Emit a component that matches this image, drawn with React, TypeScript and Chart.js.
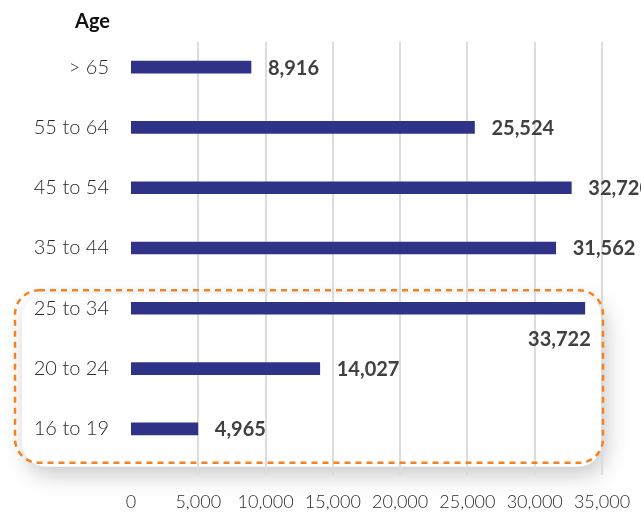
import React, { useEffect, useRef } from "react";
import { Chart, registerables } from "chart.js";

Chart.register(...registerables);

const categories = ["> 65", "55 to 64", "45 to 54", "35 to 44", "25 to 34", "20 to 24", "16 to 19"];
const values = [8916, 25524, 32720, 31562, 33722, 14027, 4965];
const xTicks = [0, 5000, 10000, 15000, 20000, 25000, 30000, 35000];
const axisTitle = "Age";
const highlighted = ["25 to 34", "20 to 24", "16 to 19"];

const BAR_COLOR = "#2E3388";
const FONT_LIGHT = "Lato, 'Open Sans', sans-serif";

function roundRect(ctx: CanvasRenderingContext2D, x: number, y: number, w: number, h: number, r: number) {
  ctx.beginPath();
  ctx.moveTo(x + r, y);
  ctx.lineTo(x + w - r, y);
  ctx.arcTo(x + w, y, x + w, y + r, r);
  ctx.lineTo(x + w, y + h - r);
  ctx.arcTo(x + w, y + h, x + w - r, y + h, r);
  ctx.lineTo(x + r, y + h);
  ctx.arcTo(x, y + h, x, y + h - r, r);
  ctx.lineTo(x, y + r);
  ctx.arcTo(x, y, x + r, y, r);
  ctx.closePath();
}

function boxBounds(chart: any) {
  const ys = chart.scales.y;
  const i0 = categories.indexOf(highlighted[0]);
  const i1 = categories.indexOf(highlighted[highlighted.length - 1]);
  return { yTop: ys.getPixelForValue(i0) - 18, yBot: ys.getPixelForValue(i1) + 34 };
}

const customPlugin = {
  id: "custom",
  beforeDraw(chart: any) {
    const ctx = chart.ctx as CanvasRenderingContext2D;
    const xs = chart.scales.x;
    const { yTop, yBot } = boxBounds(chart);
    ctx.save();
    ctx.shadowColor = "rgba(0,0,0,0.22)";
    ctx.shadowBlur = 22;
    ctx.shadowOffsetX = 4;
    ctx.shadowOffsetY = 8;
    ctx.fillStyle = "#ffffff";
    roundRect(ctx, 22, yTop + 4, xs.getPixelForValue(35000) - 22, yBot - yTop, 24);
    ctx.fill();
    ctx.restore();
  },
  beforeDatasetsDraw(chart: any) {
    const ctx = chart.ctx as CanvasRenderingContext2D;
    const xs = chart.scales.x;
    const ca = chart.chartArea;
    ctx.save();
    ctx.strokeStyle = "#dcdcdc";
    ctx.lineWidth = 2;
    xTicks.forEach((t) => {
      if (t === 0) return;
      const x = Math.round(xs.getPixelForValue(t));
      ctx.beginPath();
      ctx.moveTo(x, ca.top + 5);
      ctx.lineTo(x, ca.bottom + 16);
      ctx.stroke();
    });
    ctx.restore();
  },
  afterDatasetsDraw(chart: any) {
    const ctx = chart.ctx as CanvasRenderingContext2D;
    const xs = chart.scales.x;
    const ca = chart.chartArea;
    const meta = chart.getDatasetMeta(0);
    ctx.save();
    ctx.font = "bold 20px Lato, 'Open Sans', sans-serif";
    ctx.fillStyle = "#404040";
    ctx.textBaseline = "middle";
    meta.data.forEach((bar: any, i: number) => {
      const txt = values[i].toLocaleString("en-US");
      if (bar.x > ca.right - 20) {
        ctx.textAlign = "right";
        ctx.fillText(txt, bar.x + 6, bar.y + 31);
      } else {
        ctx.textAlign = "left";
        ctx.fillText(txt, bar.x + 17, bar.y + 1);
      }
    });
    ctx.font = "bold 20px Lato, 'Open Sans', sans-serif";
    ctx.fillStyle = "#111111";
    ctx.textAlign = "right";
    ctx.fillText(axisTitle, 110, 22);
    const { yTop, yBot } = boxBounds(chart);
    ctx.strokeStyle = "#F58220";
    ctx.lineWidth = 2.5;
    ctx.setLineDash([6, 5]);
    roundRect(ctx, 15, yTop, xs.getPixelForValue(35000) + 1 - 15, yBot - yTop, 24);
    ctx.stroke();
    ctx.restore();
  },
};

export default function App() {
  const ref = useRef<HTMLCanvasElement | null>(null);
  useEffect(() => {
    if (!ref.current) return;
    const chart = new Chart(ref.current, {
      type: "bar",
      data: {
        labels: categories,
        datasets: [
          {
            data: values,
            backgroundColor: BAR_COLOR,
            barThickness: 12,
          },
        ],
      },
      options: {
        indexAxis: "y",
        animation: false,
        responsive: false,
        maintainAspectRatio: false,
        layout: { padding: { top: 37, right: 39, left: 0, bottom: 0 } },
        plugins: {
          legend: { display: false },
          tooltip: { enabled: false },
        },
        scales: {
          x: {
            min: 0,
            max: 35000,
            grid: { display: false, drawTicks: false },
            border: { display: false },
            afterBuildTicks: (scale: any) => {
              scale.ticks = xTicks.map((v) => ({ value: v }));
            },
            afterFit: (scale: any) => {
              scale.height = 53;
              scale.paddingLeft = 0;
              scale.paddingRight = 0;
            },
            ticks: {
              padding: 32,
              color: "#2a2a2a",
              font: { family: FONT_LIGHT, size: 18, weight: "300" as any },
              maxRotation: 0,
              autoSkip: false,
              callback: (v: any) => Number(v).toLocaleString("en-US"),
            },
          },
          y: {
            grid: { display: false, drawTicks: false },
            border: { display: false },
            afterFit: (scale: any) => {
              scale.width = 131;
            },
            ticks: {
              padding: 22,
              color: "#2a2a2a",
              font: { family: FONT_LIGHT, size: 20, weight: "300" as any },
            },
          },
        },
      },
      plugins: [customPlugin],
    });
    return () => chart.destroy();
  }, []);
  return (
    <div style={{ position: "fixed", left: 0, top: 0, width: 641, height: 512, background: "#fff" }}>
      <canvas ref={ref} width={641} height={512} style={{ display: "block" }} />
    </div>
  );
}
